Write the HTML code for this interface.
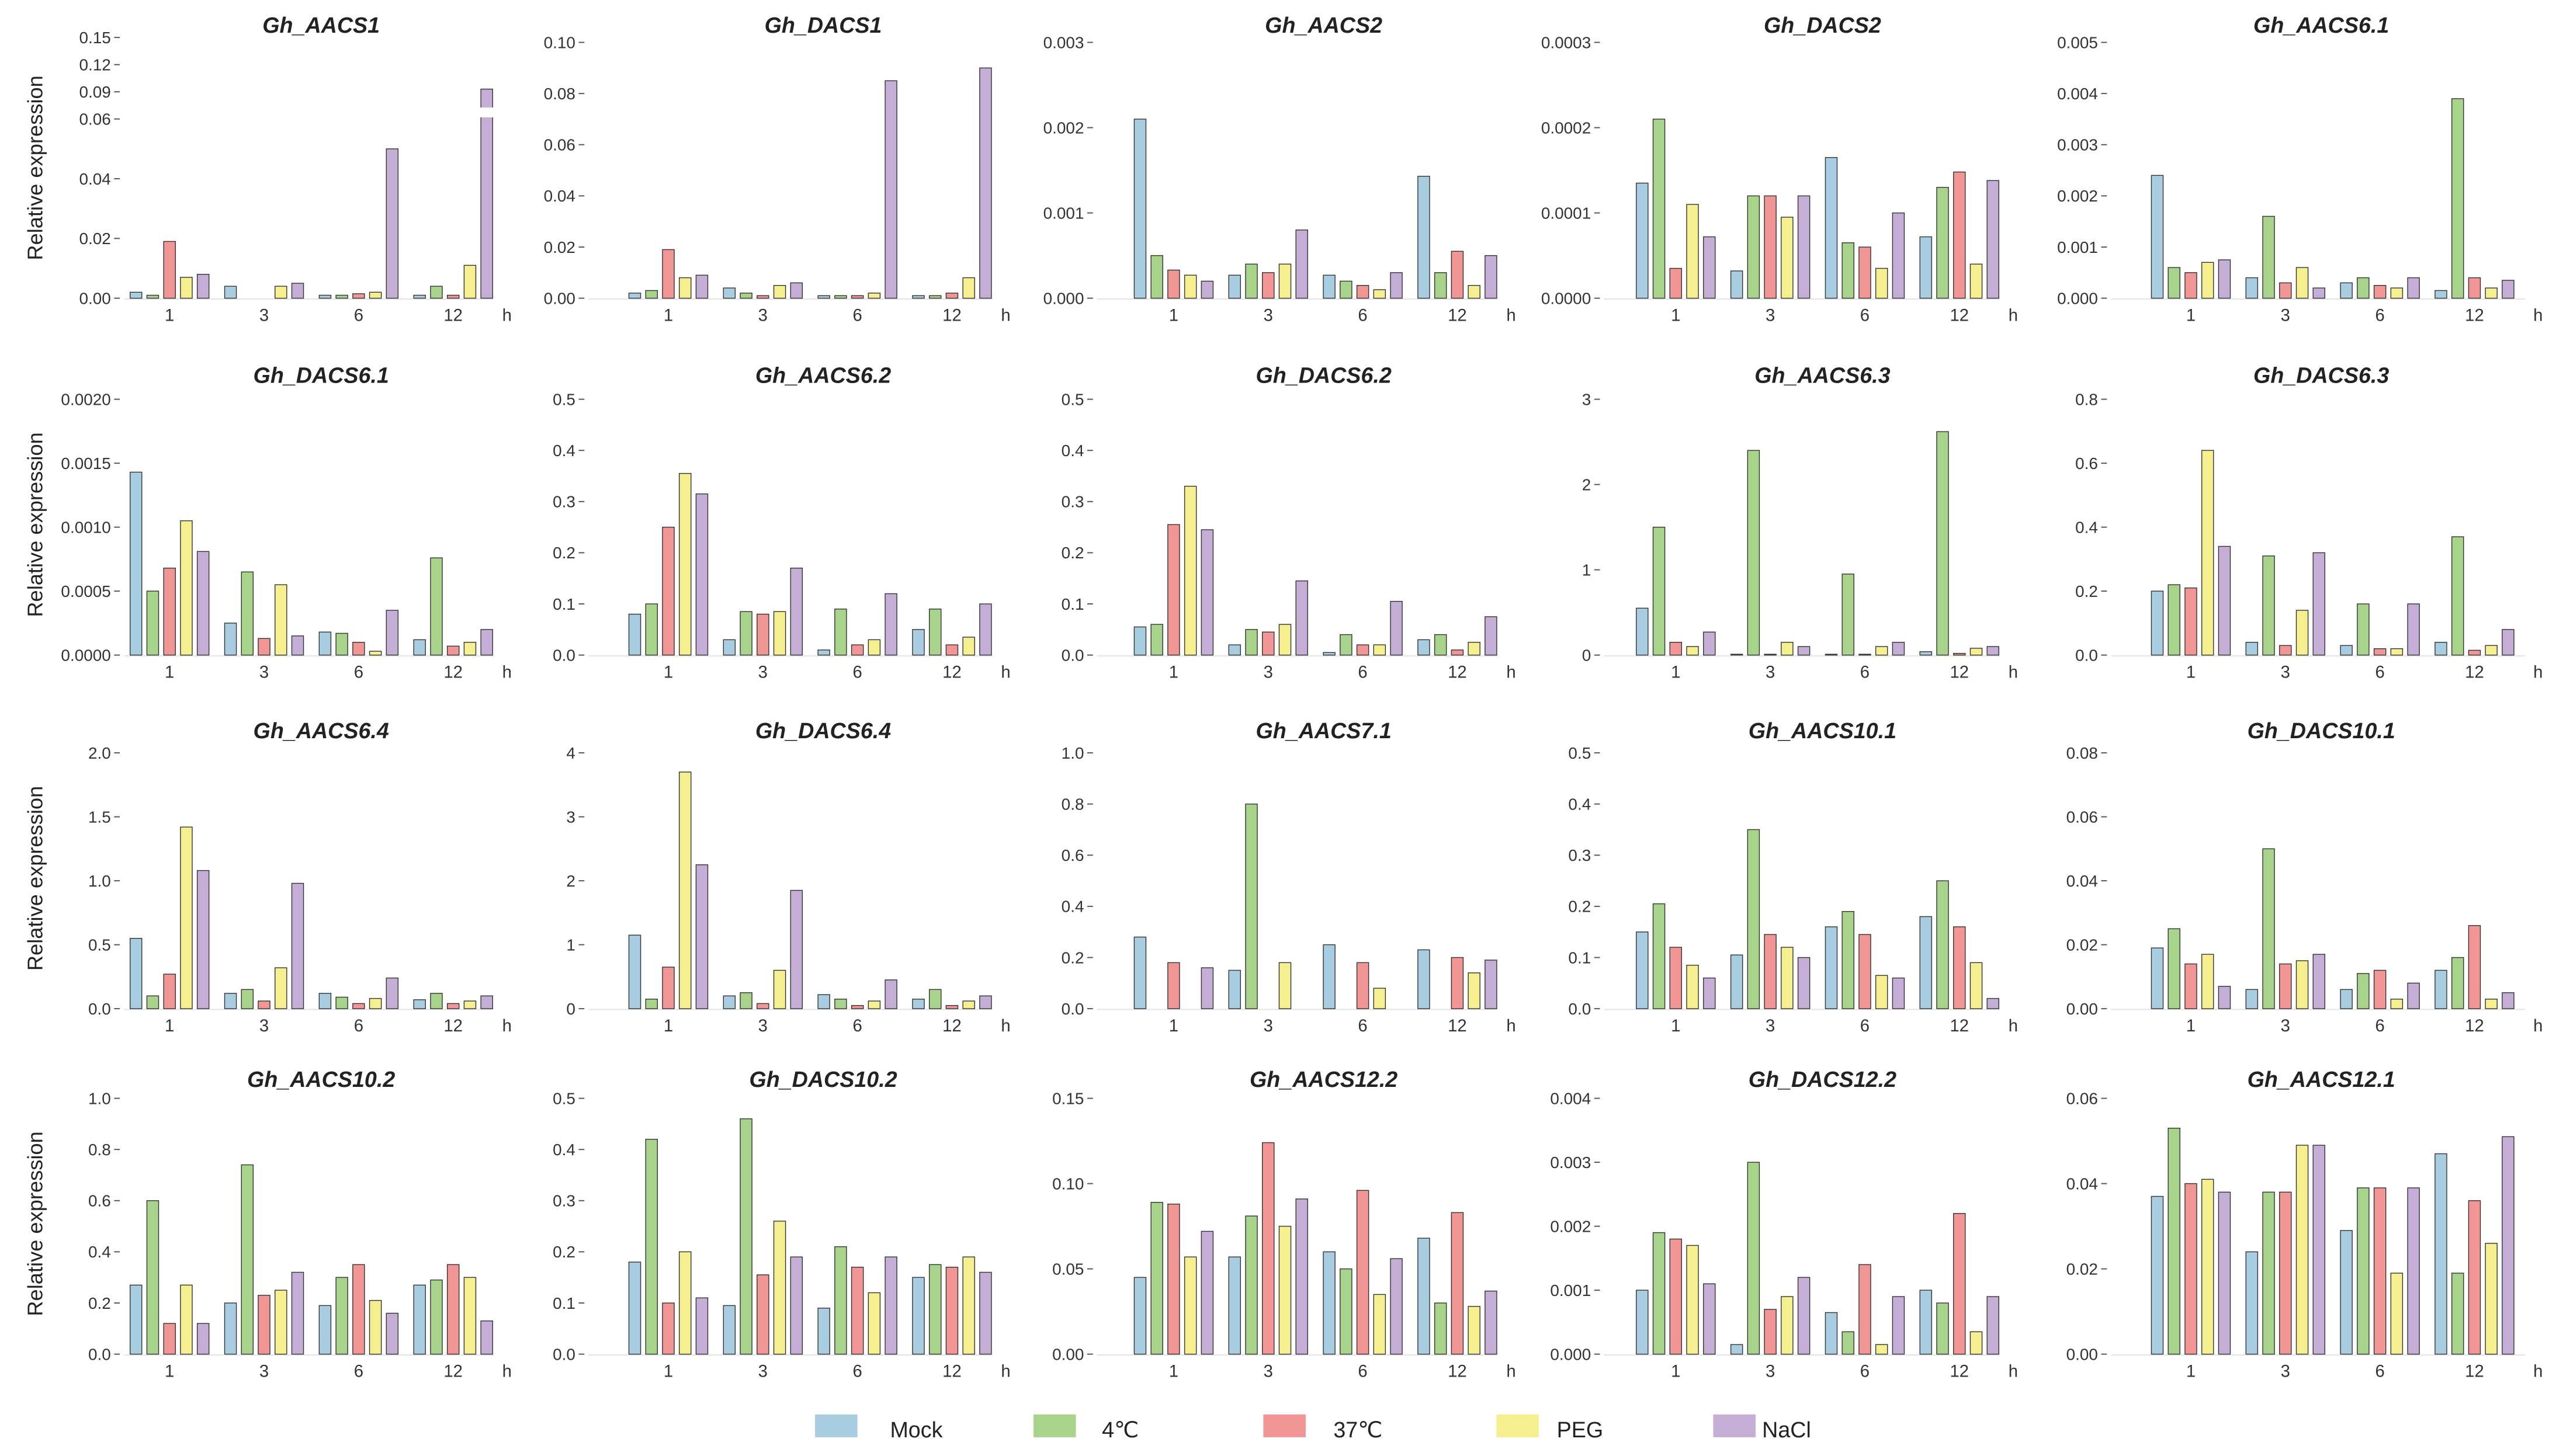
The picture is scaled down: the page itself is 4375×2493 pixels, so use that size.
<!DOCTYPE html>
<html><head><meta charset="utf-8">
<style>
html,body{margin:0;padding:0;background:#fff;}
svg{display:block;font-family:"Liberation Sans",Arial,sans-serif;}
</style></head>
<body>
<svg id="chart" width="4375" height="2493" viewBox="0 0 1568 893.5" xmlns="http://www.w3.org/2000/svg"></svg>
<script>
const times = ["1","3","6","12"];
const treatments = ["Mock","4\u2103","37\u2103","PEG","NaCl"];
const colors = ["#a9cde0","#a7d38b","#f29595","#f5ef90","#c4aed6"];
const genes = ["Gh_AACS1","Gh_DACS1","Gh_AACS2","Gh_DACS2","Gh_AACS6.1",
"Gh_DACS6.1","Gh_AACS6.2","Gh_DACS6.2","Gh_AACS6.3","Gh_DACS6.3",
"Gh_AACS6.4","Gh_DACS6.4","Gh_AACS7.1","Gh_AACS10.1","Gh_DACS10.1",
"Gh_AACS10.2","Gh_DACS10.2","Gh_AACS12.2","Gh_DACS12.2","Gh_AACS12.1"];
const tickLabels = [
["0.00","0.02","0.04","0.06","0.09","0.12","0.15"],
["0.00","0.02","0.04","0.06","0.08","0.10"],
["0.000","0.001","0.002","0.003"],
["0.0000","0.0001","0.0002","0.0003"],
["0.000","0.001","0.002","0.003","0.004","0.005"],
["0.0000","0.0005","0.0010","0.0015","0.0020"],
["0.0","0.1","0.2","0.3","0.4","0.5"],
["0.0","0.1","0.2","0.3","0.4","0.5"],
["0","1","2","3"],
["0.0","0.2","0.4","0.6","0.8"],
["0.0","0.5","1.0","1.5","2.0"],
["0","1","2","3","4"],
["0.0","0.2","0.4","0.6","0.8","1.0"],
["0.0","0.1","0.2","0.3","0.4","0.5"],
["0.00","0.02","0.04","0.06","0.08"],
["0.0","0.2","0.4","0.6","0.8","1.0"],
["0.0","0.1","0.2","0.3","0.4","0.5"],
["0.00","0.05","0.10","0.15"],
["0.000","0.001","0.002","0.003","0.004"],
["0.00","0.02","0.04","0.06"]];
// values[gene][time] = [Mock,4C,37C,PEG,NaCl]
const v1=[[.002,.001,.019,.007,.008],[.004,0,0,.004,.005],[.001,.001,.0015,.002,.050],[.001,.004,.001,.011,.093]];
const v2=[[.002,.003,.019,.008,.009],[.004,.002,.001,.005,.006],[.001,.001,.001,.002,.085],[.001,.001,.002,.008,.090]];
const v3=[[.0021,.0005,.00033,.00027,.0002],[.00027,.0004,.0003,.0004,.0008],[.00027,.0002,.00015,.0001,.0003],[.00143,.0003,.00055,.00015,.0005]];
const v4=[[.000135,.00021,.000035,.00011,.000072],[.000032,.00012,.00012,.000095,.00012],[.000165,.000065,.00006,.000035,.0001],[.000072,.00013,.000148,.00004,.000138]];
const v5=[[.0024,.0006,.0005,.0007,.00075],[.0004,.0016,.0003,.0006,.0002],[.0003,.0004,.00025,.0002,.0004],[.00015,.0039,.0004,.0002,.00035]];
const v6=[[.00143,.0005,.00068,.00105,.00081],[.00025,.00065,.00013,.00055,.00015],[.00018,.00017,.0001,.00003,.00035],[.00012,.00076,.00007,.0001,.0002]];
const v7=[[.08,.1,.25,.355,.315],[.03,.085,.08,.085,.17],[.01,.09,.02,.03,.12],[.05,.09,.02,.035,.1]];
const v8=[[.055,.06,.255,.33,.245],[.02,.05,.045,.06,.145],[.005,.04,.02,.02,.105],[.03,.04,.01,.025,.075]];
const v9=[[.55,1.5,.15,.1,.27],[.01,2.4,.01,.15,.1],[.01,.95,.01,.1,.15],[.04,2.62,.02,.08,.1]];
const v10=[[.2,.22,.21,.64,.34],[.04,.31,.03,.14,.32],[.03,.16,.02,.02,.16],[.04,.37,.015,.03,.08]];
const v11=[[.55,.1,.27,1.42,1.08],[.12,.15,.06,.32,.98],[.12,.09,.04,.08,.24],[.07,.12,.04,.06,.1]];
const v12=[[1.15,.15,.65,3.7,2.25],[.2,.25,.08,.6,1.85],[.22,.15,.05,.12,.45],[.15,.3,.05,.12,.2]];
const v13=[[.28,0,.18,0,.16],[.15,.8,0,.18,0],[.25,0,.18,.08,0],[.23,0,.2,.14,.19]];
const v14=[[.15,.205,.12,.085,.06],[.105,.35,.145,.12,.1],[.16,.19,.145,.065,.06],[.18,.25,.16,.09,.02]];
const v15=[[.019,.025,.014,.017,.007],[.006,.05,.014,.015,.017],[.006,.011,.012,.003,.008],[.012,.016,.026,.003,.005]];
const v16=[[.27,.6,.12,.27,.12],[.2,.74,.23,.25,.32],[.19,.3,.35,.21,.16],[.27,.29,.35,.3,.13]];
const v17=[[.18,.42,.1,.2,.11],[.095,.46,.155,.26,.19],[.09,.21,.17,.12,.19],[.15,.175,.17,.19,.16]];
const v18=[[.045,.089,.088,.057,.072],[.057,.081,.124,.075,.091],[.06,.05,.096,.035,.056],[.068,.03,.083,.028,.037]];
const v19=[[.001,.0019,.0018,.0017,.0011],[.00015,.003,.0007,.0009,.0012],[.00065,.00035,.0014,.00015,.0009],[.001,.0008,.0022,.00035,.0009]];
const v20=[[.037,.053,.04,.041,.038],[.024,.038,.038,.049,.049],[.029,.039,.039,.019,.039],[.047,.019,.036,.026,.051]];
const values=[v1,v2,v3,v4,v5,v6,v7,v8,v9,v10,v11,v12,v13,v14,v15,v16,v17,v18,v19,v20];

const NS="http://www.w3.org/2000/svg";
const svg=document.getElementById('chart');
function mk(tag,attrs,parent){const e=document.createElementNS(NS,tag);for(const k in attrs)e.setAttribute(k,attrs[k]);(parent||svg).appendChild(e);return e;}
const colFirst=[104,410,720,1028,1344];
const GSP=58;
const colH=[311,617,927,1235,1557];
const colAxis=[72,357,669,980,1291];
const colTitle=[197,505,812,1118,1424];
const rowBase=[183,402,619,831];
const rowTitle=[20,235,453,667];
const PH=157, BW=7.2, PITCH=10.3;

for(let g=0;g<20;g++){
  const r=Math.floor(g/5), c=g%5;
  const base=rowBase[r];
  const ticks=tickLabels[g].map(Number);
  const tmax=ticks[ticks.length-1];
  let y;
  if(g===0){ y=v=> v<=0.06 ? base-v/0.06*110 : (base-110)-(v-0.06)/0.09*50; }
  else y=v=>base-v/tmax*PH;
  const grp=mk('g',{});
  
  
  const t=mk('text',{x:colTitle[c],y:rowTitle[r],'text-anchor':'middle','font-size':13.5,'font-weight':'bold','font-style':'italic',fill:'#222'},grp);
  t.textContent=genes[g];
  
  
  tickLabels[g].forEach((lab,i)=>{
    const yy=y(ticks[i]);
    const tl=mk('text',{x:colAxis[c]-4,y:yy+3.5,'text-anchor':'end','font-size':10,fill:'#333'},grp);
    tl.textContent=lab;
    
    
    mk('line',{x1:colAxis[c]-2,x2:colAxis[c]+1.5,y1:yy,y2:yy,stroke:'#555','stroke-width':0.7},grp);
  });
  mk('line',{x1:colAxis[c]+4,x2:colH[c]-8,y1:base+0.5,y2:base+0.5,stroke:'#e6e6e6','stroke-width':0.8},grp);
  times.forEach((tm,ti)=>{
    const cx=colFirst[c]+ti*GSP;
    values[g][ti].forEach((val,si)=>{
      const x=cx+(si-2)*PITCH-BW/2;
      const yt=y(val);
      const b=mk('rect',{x:x,y:yt,width:BW,height:Math.max(0,base-yt),fill:colors[si],stroke:'#333','stroke-width':0.5},grp);
      
      
    });
    const xl=mk('text',{x:cx,y:base+14,'text-anchor':'middle','font-size':10.5,fill:'#333'},grp);
    xl.textContent=tm;
    
    
  });
  const h=mk('text',{x:colH[c],y:base+14,'text-anchor':'middle','font-size':10.5,fill:'#333'},grp);
  h.textContent='h';
  
  
  if(g===0){ mk('rect',{x:colFirst[0]+3*GSP+2*PITCH-BW/2-1,y:base-110-7,width:BW+2,height:6,fill:'#fff'},grp); }
  if(c===0){
    const yt=mk('text',{x:0,y:0,transform:`translate(26,${base-80}) rotate(-90)`,'text-anchor':'middle','font-size':13,fill:'#222'},grp);
    yt.textContent='Relative expression';
    
    
  }
}
const legX=[500,634,775,918,1051], legT=[546,676,818,955,1081];
const lg=mk('g',{});


treatments.forEach((tr,i)=>{
  const s=mk('rect',{x:legX[i],y:868,width:26,height:14,fill:colors[i]},lg);
  
  
  const tx=mk('text',{x:legT[i],y:882,'font-size':13.5,fill:'#222'},lg);
  tx.textContent=tr;
  
  
});
</script>
</body></html>
